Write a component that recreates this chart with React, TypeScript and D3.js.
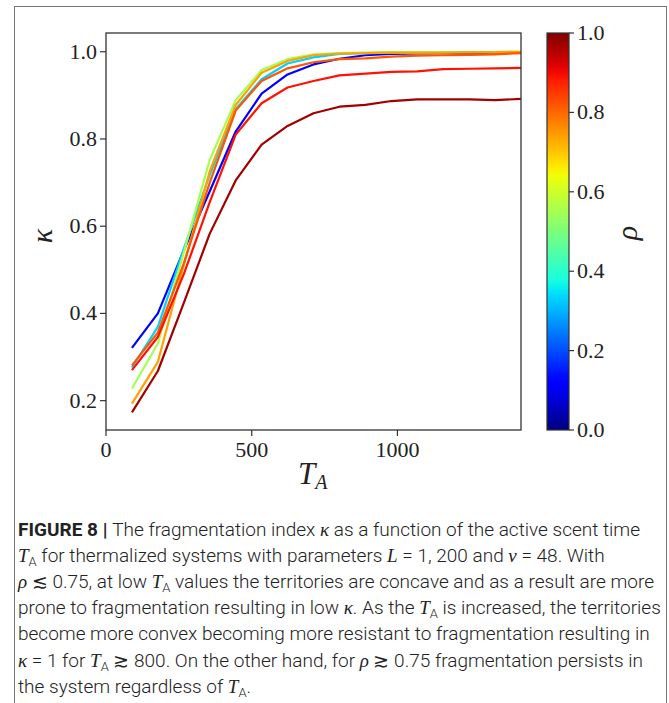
import React from 'react';
import * as d3 from 'd3';

// T_A sample points and kappa curves, one per rho
const tA = [89, 178, 267, 356, 445, 534, 623, 712, 801, 890, 979, 1068, 1157, 1246, 1335, 1424];
const rhoValues = [0.12, 0.33, 0.55, 0.74, 0.82, 0.89, 0.97];
const kappaRho012 = [0.321, 0.400, 0.545, 0.680, 0.817, 0.904, 0.948, 0.971, 0.984, 0.992, 0.995, 0.996, 0.997, 0.997, 0.998, 0.998];
const kappaRho033 = [0.276, 0.369, 0.548, 0.718, 0.868, 0.937, 0.973, 0.987, 0.995, 0.997, 0.998, 0.998, 0.999, 0.999, 0.999, 0.999];
const kappaRho055 = [0.228, 0.331, 0.540, 0.752, 0.889, 0.958, 0.983, 0.994, 0.997, 0.998, 0.999, 0.999, 0.999, 0.999, 0.999, 1.0];
const kappaRho074 = [0.193, 0.289, 0.511, 0.726, 0.878, 0.952, 0.979, 0.992, 0.996, 0.997, 0.998, 0.998, 0.998, 0.999, 0.999, 1.0];
const kappaRho082 = [0.281, 0.356, 0.515, 0.700, 0.865, 0.933, 0.962, 0.976, 0.983, 0.985, 0.989, 0.991, 0.992, 0.993, 0.994, 0.997];
const kappaRho089 = [0.270, 0.346, 0.490, 0.655, 0.810, 0.882, 0.918, 0.933, 0.946, 0.950, 0.954, 0.955, 0.960, 0.961, 0.962, 0.963];
const kappaRho097 = [0.173, 0.268, 0.424, 0.583, 0.705, 0.787, 0.830, 0.859, 0.874, 0.878, 0.887, 0.891, 0.891, 0.891, 0.889, 0.892];
const series = [kappaRho012, kappaRho033, kappaRho055, kappaRho074, kappaRho082, kappaRho089, kappaRho097];

const xTicks = [0, 500, 1000];
const yTicks = [0.2, 0.4, 0.6, 0.8, 1.0];
const cbTicks = [0.0, 0.2, 0.4, 0.6, 0.8, 1.0];

// caption lines: [kind, text] with b = bold, m = math italic, s = subscript
type Seg = [string, string];
const captionLines: Seg[][] = [
  [['b', 'FIGURE 8 | '], ['t', 'The fragmentation index '], ['m', 'κ'], ['t', ' as a function of the active scent time']],
  [['m', 'T'], ['s', 'A'], ['t', ' for thermalized systems with parameters '], ['m', 'L'], ['t', ' = 1, 200 and '], ['m', 'ν'], ['t', ' = 48. With']],
  [['m', 'ρ'], ['t', ' ≲ 0.75, at low '], ['m', 'T'], ['s', 'A'], ['t', ' values the territories are concave and as a result are more']],
  [['t', 'prone to fragmentation resulting in low '], ['m', 'κ'], ['t', '. As the '], ['m', 'T'], ['s', 'A'], ['t', ' is increased, the territories']],
  [['t', 'become more convex becoming more resistant to fragmentation resulting in']],
  [['m', 'κ'], ['t', ' = 1 for '], ['m', 'T'], ['s', 'A'], ['t', ' ≳ 800. On the other hand, for '], ['m', 'ρ'], ['t', ' ≳ 0.75 fragmentation persists in']],
  [['t', 'the system regardless of '], ['m', 'T'], ['s', 'A'], ['t', '.']],
];

// matplotlib "jet" segment data
const jetR = d3.scaleLinear<number>().domain([0, 0.35, 0.66, 0.89, 1]).range([0, 0, 1, 1, 0.5]).clamp(true);
const jetG = d3.scaleLinear<number>().domain([0, 0.125, 0.375, 0.64, 0.91, 1]).range([0, 0, 1, 1, 0, 0]).clamp(true);
const jetB = d3.scaleLinear<number>().domain([0, 0.11, 0.34, 0.65, 1]).range([0.5, 1, 1, 0, 0]).clamp(true);
const jet = (t: number) => d3.rgb(jetR(t) * 255, jetG(t) * 255, jetB(t) * 255).formatHex();

const serif = "'Liberation Serif', 'DejaVu Serif', serif";
const capFont = "'Roboto', 'Liberation Sans', sans-serif";

function renderLine(segs: Seg[]) {
  let shift = 0;
  return segs.map(([kind, txt], i) => {
    const props: any = {};
    if (kind === 's') {
      props.dy = 4;
      props.fontSize = 13;
      props.fontFamily = capFont;
      shift = 4;
    } else if (shift) {
      props.dy = -shift;
      shift = 0;
    }
    if (kind === 'b') props.fontWeight = 700;
    if (kind === 'm') {
      props.fontFamily = serif;
      props.fontStyle = 'italic';
    }
    return <tspan key={i} {...props}>{txt}</tspan>;
  });
}

export default function App() {
  const W = 669;
  const H = 703;
  const x = d3.scaleLinear().domain([0, 1424]).range([106, 521]);
  const y = d3.scaleLinear().domain([0.1327, 1.043]).range([430, 33]);
  const cb = d3.scaleLinear().domain([0, 1]).range([430, 33]);
  const line = d3.line<number>().x((_, i) => x(tA[i])).y(d => y(d));

  const stops = d3.range(0, 1.0001, 0.02);

  return (
    <svg width={W} height={H} style={{ position: 'absolute', left: 0, top: 0 }}>
      <rect x={0} y={0} width={W} height={H} fill="#fff" />
      <rect x={14.5} y={6.5} width={652} height={720} fill="none" stroke="#777" strokeWidth={1} />

      <defs>
        <clipPath id="plotClip">
          <rect x={106} y={33} width={415} height={397} />
        </clipPath>
        <linearGradient id="jetGrad" x1="0" y1="1" x2="0" y2="0">
          {stops.map(s => (
            <stop key={s} offset={s} stopColor={jet(s)} />
          ))}
        </linearGradient>
      </defs>

      {/* curves */}
      <g clipPath="url(#plotClip)">
        {series.map((vals, i) => (
          <path key={i} d={line(vals) || ''} fill="none" stroke={jet(rhoValues[i])} strokeWidth={2.2} strokeLinejoin="round" />
        ))}
      </g>

      {/* axes frame */}
      <rect x={106} y={33} width={415} height={397} fill="none" stroke="#333" strokeWidth={1.3} />

      {yTicks.map(t => (
        <g key={t}>
          <line x1={100} x2={106} y1={y(t)} y2={y(t)} stroke="#333" strokeWidth={1.2} />
          <text x={97} y={y(t) + 7} textAnchor="end" fontFamily={serif} fontSize={22} fill="#222">{t.toFixed(1)}</text>
        </g>
      ))}
      {xTicks.map(t => (
        <g key={t}>
          <line x1={x(t)} x2={x(t)} y1={430} y2={436} stroke="#333" strokeWidth={1.2} />
          <text x={x(t)} y={457} textAnchor="middle" fontFamily={serif} fontSize={22} fill="#222">{t}</text>
        </g>
      ))}

      <text x={298} y={484} fontFamily={serif} fontSize={31} fill="#222">
        <tspan fontStyle="italic">T</tspan>
        <tspan fontStyle="italic" fontSize={20} dy={5}>A</tspan>
      </text>
      <text transform="translate(52,236) rotate(-90)" textAnchor="middle" fontFamily={serif} fontStyle="italic" fontSize={30} fill="#222">κ</text>

      {/* colour bar */}
      <rect x={547} y={33} width={22} height={397} fill="url(#jetGrad)" stroke="#333" strokeWidth={1.2} />
      {cbTicks.map(t => (
        <g key={t}>
          <line x1={569} x2={574} y1={cb(t)} y2={cb(t)} stroke="#333" strokeWidth={1.2} />
          <text x={577} y={cb(t) + 7} fontFamily={serif} fontSize={22} fill="#222">{t.toFixed(1)}</text>
        </g>
      ))}
      <text transform="translate(637,233) rotate(-90)" textAnchor="middle" fontFamily={serif} fontStyle="italic" fontSize={30} fill="#222">ρ</text>

      {/* caption */}
      {captionLines.map((segs, i) => (
        <text key={i} x={18} y={536 + i * 26.1} fontFamily={capFont} fontWeight={300} fontSize={19} fill="#222">
          {renderLine(segs)}
        </text>
      ))}
    </svg>
  );
}
